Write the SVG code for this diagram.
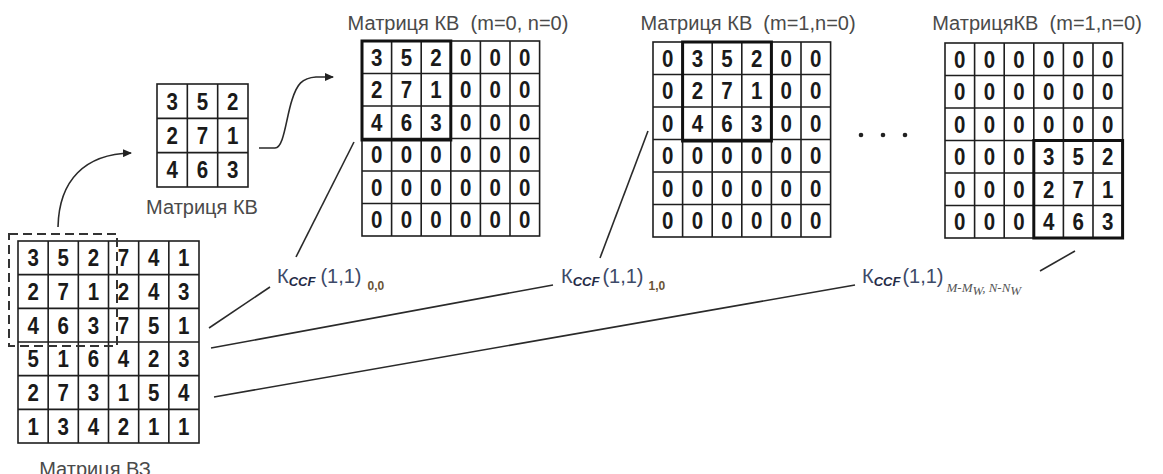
<svg xmlns="http://www.w3.org/2000/svg" width="1163" height="474" viewBox="0 0 1163 474">
<style>
.grid{fill:none;stroke:#1e1e1e;stroke-width:1.6}
.bold{fill:none;stroke:#111;stroke-width:3}
.d{font-family:"Liberation Sans",Arial,sans-serif;font-weight:bold;font-size:20.5px;text-anchor:middle;fill:#1a1a1a}
.t{font-family:"Liberation Sans",Arial,sans-serif;font-size:20px;text-anchor:middle;fill:#4a4a4a}
.k{font-family:"Liberation Sans",Arial,sans-serif;font-size:20px;fill:#3d4a68}
.kc{font-size:13px;font-weight:bold;font-style:italic;fill:#1f2a46}
.ks{font-size:12px;font-weight:bold;fill:#6a5436}
.kser{font-family:"Liberation Serif",serif;font-size:13px;font-style:italic;fill:#555}
.ln{fill:none;stroke:#2a2a2a;stroke-width:1.6}
</style>
<defs>
<marker id="ah" markerWidth="10" markerHeight="8" refX="8" refY="4" orient="auto" markerUnits="userSpaceOnUse">
<path d="M0,0 L9,4 L0,8 Z" fill="#222"/>
</marker>
</defs>

<g id="matrix-vz">
<g transform="translate(18,241)">
<rect class="grid" x="0" y="0" width="181" height="202"/>
<path class="grid" d="M30.17 0V202M60.33 0V202M90.5 0V202M120.67 0V202M150.83 0V202M0 33.67H181M0 67.33H181M0 101H181M0 134.67H181M0 168.33H181"/>
<g transform="scale(1,1.2)">
<text class="d" x="15.1 45.25 75.4 105.5 135.7 165.8" y="21.2">352741</text>
<text class="d" x="15.1 45.25 75.4 105.5 135.7 165.8" y="49.25">271243</text>
<text class="d" x="15.1 45.25 75.4 105.5 135.7 165.8" y="77.3">463751</text>
<text class="d" x="15.1 45.25 75.4 105.5 135.7 165.8" y="105.36">516423</text>
<text class="d" x="15.1 45.25 75.4 105.5 135.7 165.8" y="133.4">273154</text>
<text class="d" x="15.1 45.25 75.4 105.5 135.7 165.8" y="161.5">134211</text>
</g>
</g>
<rect x="9" y="234" width="108" height="112" fill="none" stroke="#333" stroke-width="2" stroke-dasharray="9,5"/>
<text class="t" x="95" y="476">Матриця ВЗ</text>
</g>

<g id="matrix-kv">
<g transform="translate(157,84)">
<rect class="grid" x="0" y="0" width="91" height="103"/>
<path class="grid" d="M30.33 0V103M60.67 0V103M0 34.33H91M0 68.67H91"/>
<g transform="scale(1,1.2)">
<text class="d" x="15.2 45.5 75.8" y="21.5">352</text>
<text class="d" x="15.2 45.5 75.8" y="50.1">271</text>
<text class="d" x="15.2 45.5 75.8" y="78.7">463</text>
</g>
</g>
<text class="t" x="202" y="214">Матриця КВ</text>
</g>

<g id="matrix-kv-00">
<text class="t" x="458" y="30" xml:space="preserve">Матриця КВ  (m=0, n=0)</text>
<g transform="translate(362,41)">
<rect class="grid" x="0" y="0" width="177.6" height="195"/>
<path class="grid" d="M29.6 0V195M59.2 0V195M88.8 0V195M118.4 0V195M148 0V195M0 32.5H177.6M0 65H177.6M0 97.5H177.6M0 130H177.6M0 162.5H177.6"/>
<rect class="bold" x="0" y="0" width="88.8" height="99"/>
<g transform="scale(1,1.2)">
<text class="d" x="14.8 44.4 74 103.6 133.2 162.8" y="20.7">352000</text>
<text class="d" x="14.8 44.4 74 103.6 133.2 162.8" y="47.8">271000</text>
<text class="d" x="14.8 44.4 74 103.6 133.2 162.8" y="74.9">463000</text>
<text class="d" x="14.8 44.4 74 103.6 133.2 162.8" y="102">000000</text>
<text class="d" x="14.8 44.4 74 103.6 133.2 162.8" y="129">000000</text>
<text class="d" x="14.8 44.4 74 103.6 133.2 162.8" y="156.1">000000</text>
</g>
</g>
</g>

<g id="matrix-kv-10">
<text class="t" x="748" y="30" xml:space="preserve">Матриця КВ  (m=1,n=0)</text>
<g transform="translate(653,42)">
<rect class="grid" x="0" y="0" width="177.6" height="195"/>
<path class="grid" d="M29.6 0V195M59.2 0V195M88.8 0V195M118.4 0V195M148 0V195M0 32.5H177.6M0 65H177.6M0 97.5H177.6M0 130H177.6M0 162.5H177.6"/>
<rect class="bold" x="29.6" y="0" width="88.8" height="99"/>
<g transform="scale(1,1.2)">
<text class="d" x="14.8 44.4 74 103.6 133.2 162.8" y="20.7">035200</text>
<text class="d" x="14.8 44.4 74 103.6 133.2 162.8" y="47.8">027100</text>
<text class="d" x="14.8 44.4 74 103.6 133.2 162.8" y="74.9">046300</text>
<text class="d" x="14.8 44.4 74 103.6 133.2 162.8" y="102">000000</text>
<text class="d" x="14.8 44.4 74 103.6 133.2 162.8" y="129">000000</text>
<text class="d" x="14.8 44.4 74 103.6 133.2 162.8" y="156.1">000000</text>
</g>
</g>
</g>

<g id="ellipsis">
<circle cx="861" cy="135" r="2.3" fill="#222"/>
<circle cx="883" cy="135" r="2.3" fill="#222"/>
<circle cx="905" cy="135" r="2.3" fill="#222"/>
</g>

<g id="matrix-kv-last">
<text class="t" x="1037" y="30" xml:space="preserve">МатрицяКВ  (m=1,n=0)</text>
<g transform="translate(945,43)">
<rect class="grid" x="0" y="0" width="177.6" height="195"/>
<path class="grid" d="M29.6 0V195M59.2 0V195M88.8 0V195M118.4 0V195M148 0V195M0 32.5H177.6M0 65H177.6M0 97.5H177.6M0 130H177.6M0 162.5H177.6"/>
<rect class="bold" x="88.8" y="97.5" width="88.8" height="97.5"/>
<g transform="scale(1,1.2)">
<text class="d" x="14.8 44.4 74 103.6 133.2 162.8" y="20.7">000000</text>
<text class="d" x="14.8 44.4 74 103.6 133.2 162.8" y="47.8">000000</text>
<text class="d" x="14.8 44.4 74 103.6 133.2 162.8" y="74.9">000000</text>
<text class="d" x="14.8 44.4 74 103.6 133.2 162.8" y="102">000352</text>
<text class="d" x="14.8 44.4 74 103.6 133.2 162.8" y="129">000271</text>
<text class="d" x="14.8 44.4 74 103.6 133.2 162.8" y="156.1">000463</text>
</g>
</g>
</g>

<g id="label-00">
<text class="k" x="277" y="283">К<tspan class="kc" dy="3">CCF</tspan><tspan dx="5" dy="-3">(1,1)</tspan><tspan class="ks" dx="6" dy="7">0,0</tspan></text>
</g>
<g id="label-10">
<text class="k" x="561" y="283">К<tspan class="kc" dy="3">CCF</tspan><tspan dx="3" dy="-3">(1,1)</tspan><tspan class="ks" dx="5" dy="7">1,0</tspan></text>
</g>
<g id="label-last">
<text class="k" x="862" y="283">К<tspan class="kc" dy="3">CCF</tspan><tspan dx="2" dy="-3">(1,1)</tspan><tspan class="kser" dx="3" dy="9">M-M</tspan><tspan class="kser" font-size="9" dy="3">W</tspan><tspan class="kser" dy="-3">, N-N</tspan><tspan class="kser" font-size="9" dy="3">W</tspan></text>
</g>

<g id="connectors">
<path class="ln" d="M58,227 C59,180 85,154 131,153" marker-end="url(#ah)"/>
<path class="ln" d="M259,148 L275,148 C284,148 286,118 292,100 C297,84 302,78 316,77 L333,77" marker-end="url(#ah)"/>
<path class="ln" d="M209,328 L270,287"/>
<path class="ln" d="M296,257 L354,142"/>
<path class="ln" d="M211,348 L553,285"/>
<path class="ln" d="M600,258 L648,131"/>
<path class="ln" d="M214,397 L855,285"/>
<path class="ln" d="M1075,251 L1040,271"/>
</g>
</svg>
